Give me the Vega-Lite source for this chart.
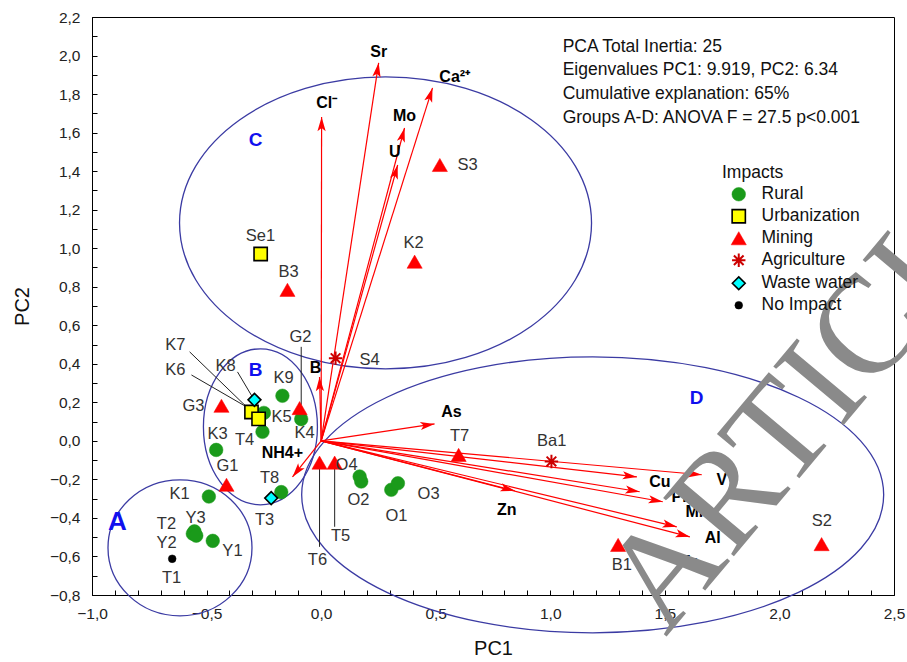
{
  "$schema": "https://vega.github.io/schema/vega-lite/v6.json",
  "autosize": "none",
  "width": 802,
  "height": 578,
  "padding": {"left": 92, "top": 17, "right": 13, "bottom": 67},
  "background": "white",
  "config": {
    "view": {"stroke": "#000", "strokeWidth": 1},
    "font": "Liberation Sans",
    "axis": {"grid": false, "domainColor": "#000", "tickColor": "#000", "labelColor": "#222", "titleColor": "#111", "labelFont": "Liberation Sans", "titleFont": "Liberation Sans", "labelFontSize": 15.5, "titleFontSize": 20, "titleFontWeight": "normal", "tickSize": -5, "labelOverlap": false, "labelFlush": false}
  },
  "datasets": {
    "pts": [
      {"id": "K9", "impact": "Rural", "x": -0.169, "y": 0.234},
      {"id": "K5", "impact": "Rural", "x": -0.25, "y": 0.145},
      {"id": "K4", "impact": "Rural", "x": -0.087, "y": 0.113},
      {"id": "T4", "impact": "Rural", "x": -0.256, "y": 0.047},
      {"id": "K3", "impact": "Rural", "x": -0.458, "y": -0.047},
      {"id": "T8", "impact": "Rural", "x": -0.174, "y": -0.266},
      {"id": "K1", "impact": "Rural", "x": -0.49, "y": -0.289},
      {"id": "Y3", "impact": "Rural", "x": -0.553, "y": -0.47},
      {"id": "T2", "impact": "Rural", "x": -0.56, "y": -0.482},
      {"id": "Y2", "impact": "Rural", "x": -0.545, "y": -0.492},
      {"id": "Y1", "impact": "Rural", "x": -0.473, "y": -0.519},
      {"id": "O4", "impact": "Rural", "x": 0.168, "y": -0.185},
      {"id": "O2", "impact": "Rural", "x": 0.175, "y": -0.211},
      {"id": "O1", "impact": "Rural", "x": 0.306, "y": -0.254},
      {"id": "O3", "impact": "Rural", "x": 0.335, "y": -0.22},
      {"id": "Se1", "impact": "Urbanization", "x": -0.264, "y": 0.97},
      {"id": "K6", "impact": "Urbanization", "x": -0.304, "y": 0.15},
      {"id": "K7", "impact": "Urbanization", "x": -0.273, "y": 0.114},
      {"id": "S3", "impact": "Mining", "x": 0.518, "y": 1.432},
      {"id": "K2", "impact": "Mining", "x": 0.408, "y": 0.93},
      {"id": "B3", "impact": "Mining", "x": -0.147, "y": 0.784},
      {"id": "G3", "impact": "Mining", "x": -0.435, "y": 0.182},
      {"id": "G2", "impact": "Mining", "x": -0.094, "y": 0.17},
      {"id": "G1", "impact": "Mining", "x": -0.413, "y": -0.228},
      {"id": "T6", "impact": "Mining", "x": -0.007, "y": -0.113},
      {"id": "T5", "impact": "Mining", "x": 0.059, "y": -0.113},
      {"id": "T7", "impact": "Mining", "x": 0.6, "y": -0.073},
      {"id": "B1", "impact": "Mining", "x": 1.296, "y": -0.54},
      {"id": "S2", "impact": "Mining", "x": 2.184, "y": -0.536},
      {"id": "S4", "impact": "Agriculture", "x": 0.063, "y": 0.429},
      {"id": "Ba1", "impact": "Agriculture", "x": 1.005, "y": -0.107},
      {"id": "K8", "impact": "Waste water", "x": -0.291, "y": 0.213},
      {"id": "T3", "impact": "Waste water", "x": -0.218, "y": -0.297},
      {"id": "T1", "impact": "No Impact", "x": -0.65, "y": -0.612}
    ],
    "plabels": [
      {"t": "Se1", "x": -0.265, "y": 1.064},
      {"t": "B3", "x": -0.142, "y": 0.877},
      {"t": "K2", "x": 0.403, "y": 1.027},
      {"t": "S3", "x": 0.639, "y": 1.432},
      {"t": "S4", "x": 0.211, "y": 0.42},
      {"t": "G2", "x": -0.09, "y": 0.54},
      {"t": "K9", "x": -0.164, "y": 0.327},
      {"t": "K7", "x": -0.636, "y": 0.498},
      {"t": "K6", "x": -0.636, "y": 0.368},
      {"t": "K8", "x": -0.417, "y": 0.389},
      {"t": "G3", "x": -0.557, "y": 0.182},
      {"t": "K3", "x": -0.452, "y": 0.036},
      {"t": "T4", "x": -0.334, "y": 0.005},
      {"t": "K5", "x": -0.173, "y": 0.125},
      {"t": "K4", "x": -0.072, "y": 0.042},
      {"t": "G1", "x": -0.409, "y": -0.13},
      {"t": "T8", "x": -0.225, "y": -0.192},
      {"t": "T3", "x": -0.247, "y": -0.41},
      {"t": "K1", "x": -0.618, "y": -0.275},
      {"t": "T2", "x": -0.675, "y": -0.431},
      {"t": "Y3", "x": -0.548, "y": -0.4},
      {"t": "Y2", "x": -0.675, "y": -0.529},
      {"t": "Y1", "x": -0.387, "y": -0.571},
      {"t": "T1", "x": -0.653, "y": -0.711},
      {"t": "O4", "x": 0.111, "y": -0.125},
      {"t": "O2", "x": 0.163, "y": -0.306},
      {"t": "O1", "x": 0.329, "y": -0.389},
      {"t": "O3", "x": 0.469, "y": -0.275},
      {"t": "T6", "x": -0.016, "y": -0.618},
      {"t": "T5", "x": 0.085, "y": -0.493},
      {"t": "T7", "x": 0.604, "y": 0.026},
      {"t": "Ba1", "x": 1.006, "y": 0.0},
      {"t": "B1", "x": 1.312, "y": -0.643},
      {"t": "S2", "x": 2.185, "y": -0.415}
    ],
    "vec": [
      {"v": "Sr", "x0": 0, "y0": 0, "x": 0.251, "y": 1.962},
      {"v": "Ca", "x0": 0, "y0": 0, "x": 0.486, "y": 1.832},
      {"v": "Cl", "x0": 0, "y0": 0, "x": 0.002, "y": 1.681},
      {"v": "Mo", "x0": 0, "y0": 0, "x": 0.364, "y": 1.624},
      {"v": "U", "x0": 0, "y0": 0, "x": 0.334, "y": 1.432},
      {"v": "B", "x0": 0, "y0": 0, "x": -0.007, "y": 0.332},
      {"v": "NH4", "x0": 0, "y0": 0, "x": -0.125, "y": -0.187},
      {"v": "As", "x0": 0, "y0": 0, "x": 0.495, "y": 0.088},
      {"v": "Zn", "x0": 0, "y0": 0, "x": 0.845, "y": -0.259},
      {"v": "Cu", "x0": 0, "y0": 0, "x": 1.378, "y": -0.187},
      {"v": "Pb", "x0": 0, "y0": 0, "x": 1.39, "y": -0.264},
      {"v": "Mn", "x0": 0, "y0": 0, "x": 1.491, "y": -0.316},
      {"v": "V", "x0": 0, "y0": 0, "x": 1.661, "y": -0.176},
      {"v": "Al", "x0": 0, "y0": 0, "x": 1.552, "y": -0.446},
      {"v": "Fe", "x0": 0, "y0": 0, "x": 1.609, "y": -0.498}
    ],
    "vlabels": [
      {"t": "Sr", "x": 0.251, "y": 2.019},
      {"t": "Ca²⁺", "x": 0.583, "y": 1.889},
      {"t": "Cl⁻", "x": 0.024, "y": 1.754},
      {"t": "Mo", "x": 0.364, "y": 1.687},
      {"t": "U", "x": 0.321, "y": 1.5},
      {"t": "B", "x": -0.024, "y": 0.379},
      {"t": "NH4+", "x": -0.169, "y": -0.062},
      {"t": "As", "x": 0.569, "y": 0.15},
      {"t": "Zn", "x": 0.81, "y": -0.358},
      {"t": "Cu", "x": 1.478, "y": -0.213},
      {"t": "Pb", "x": 1.574, "y": -0.291},
      {"t": "Mn", "x": 1.64, "y": -0.368},
      {"t": "V", "x": 1.749, "y": -0.202},
      {"t": "Al", "x": 1.709, "y": -0.503},
      {"t": "Fe", "x": 1.609, "y": -0.628}
    ],
    "leaders": [
      {"id": "K7", "x": -0.574, "y": 0.462, "x2": -0.325, "y2": 0.176},
      {"id": "K6", "x": -0.566, "y": 0.342, "x2": -0.325, "y2": 0.176},
      {"id": "K8", "x": -0.365, "y": 0.358, "x2": -0.3, "y2": 0.228},
      {"id": "G2", "x": -0.087, "y": 0.488, "x2": -0.087, "y2": 0.187},
      {"id": "T6", "x": -0.007, "y": -0.14, "x2": -0.007, "y2": -0.55},
      {"id": "T5", "x": 0.059, "y": -0.14, "x2": 0.059, "y2": -0.446}
    ],
    "groups": [
      {"g": "A", "x": -0.616, "y": -0.555, "lx": -0.889, "ly": -0.42},
      {"g": "B", "x": -0.265, "y": 0.073, "lx": -0.286, "ly": 0.368},
      {"g": "C", "x": 0.281, "y": 1.131, "lx": -0.286, "ly": 1.562},
      {"g": "D", "x": 1.185, "y": -0.28, "lx": 1.639, "ly": 0.223}
    ],
    "info": [
      {"x": 1.054, "y": 2.092, "t": ["PCA Total Inertia: 25", "Eigenvalues PC1: 9.919, PC2: 6.34", "Cumulative explanation: 65%", "Groups A-D: ANOVA F = 27.5 p<0.001"]}
    ],
    "wm": [
      {"t": "ARTICLE", "x": 1.504, "y": -1.02}
    ]
  },
  "layer": [
    {
      "data": {"name": "groups"},
      "transform": [{"filter": "datum.g == 'A'"}],
      "mark": {"type": "point", "filled": false, "size": 4, "stroke": "#3b3ba3", "strokeWidth": 1.3, "opacity": 1, "shape": "M -72 0 A 72 68 0 1 0 72 0 A 72 68 0 1 0 -72 0 Z"},
      "encoding": {
        "x": {"field": "x", "type": "quantitative", "scale": {"domain": [-1, 2.5], "nice": false, "zero": false},
          "axis": {"title": "PC1", "tickCount": 200, "values": [-1.0, -0.9, -0.8, -0.7, -0.6, -0.5, -0.4, -0.3, -0.2, -0.1, 0.0, 0.1, 0.2, 0.3, 0.4, 0.5, 0.6, 0.7, 0.8, 0.9, 1.0, 1.1, 1.2, 1.3, 1.4, 1.5, 1.6, 1.7, 1.8, 1.9, 2.0, 2.1, 2.2, 2.3, 2.4, 2.5],
            "labelExpr": "abs(round(datum.value*10)) % 5 == 0 ? replace(format(datum.value, '.1f'), '.', ',') : ''", "labelPadding": 16, "titlePadding": 17, "labelOverlap": false, "labelFlush": false, "labelBound": false}},
        "y": {"field": "y", "type": "quantitative", "scale": {"domain": [-0.8, 2.2], "nice": false, "zero": false},
          "axis": {"title": "PC2", "tickCount": 200, "values": [-0.8, -0.7, -0.6, -0.5, -0.4, -0.3, -0.2, -0.1, 0.0, 0.1, 0.2, 0.3, 0.4, 0.5, 0.6, 0.7, 0.8, 0.9, 1.0, 1.1, 1.2, 1.3, 1.4, 1.5, 1.6, 1.7, 1.8, 1.9, 2.0, 2.1, 2.2],
            "labelExpr": "abs(round(datum.value*10)) % 2 == 0 ? replace(format(datum.value, '.1f'), '.', ',') : ''", "labelPadding": 17, "titlePadding": 17, "labelOverlap": false, "labelFlush": false, "labelBound": false}}
      }
    },
    {
      "data": {"name": "groups"},
      "transform": [{"filter": "datum.g == 'B'"}],
      "mark": {"type": "point", "filled": false, "size": 4, "stroke": "#3b3ba3", "strokeWidth": 1.3, "opacity": 1, "shape": "M -57 0 A 57 78 0 1 0 57 0 A 57 78 0 1 0 -57 0 Z"},
      "encoding": {"x": {"field": "x", "type": "quantitative"}, "y": {"field": "y", "type": "quantitative"}}
    },
    {
      "data": {"name": "groups"},
      "transform": [{"filter": "datum.g == 'C'"}],
      "mark": {"type": "point", "filled": false, "size": 4, "stroke": "#3b3ba3", "strokeWidth": 1.3, "opacity": 1, "shape": "M -206 0 A 206 146 0 1 0 206 0 A 206 146 0 1 0 -206 0 Z"},
      "encoding": {"x": {"field": "x", "type": "quantitative"}, "y": {"field": "y", "type": "quantitative"}}
    },
    {
      "data": {"name": "groups"},
      "transform": [{"filter": "datum.g == 'D'"}],
      "mark": {"type": "point", "filled": false, "size": 4, "stroke": "#3b3ba3", "strokeWidth": 1.3, "opacity": 1, "shape": "M -291 0 A 291 138 0 1 0 291 0 A 291 138 0 1 0 -291 0 Z"},
      "encoding": {"x": {"field": "x", "type": "quantitative"}, "y": {"field": "y", "type": "quantitative"}}
    },
    {
      "data": {"name": "leaders"},
      "mark": {"type": "rule", "color": "#222", "strokeWidth": 1},
      "encoding": {"x": {"field": "x", "type": "quantitative"}, "y": {"field": "y", "type": "quantitative"}, "x2": {"field": "x2"}, "y2": {"field": "y2"}}
    },
    {
      "data": {"name": "vec"},
      "mark": {"type": "rule", "color": "#ff0000", "strokeWidth": 1.2},
      "encoding": {"x": {"field": "x0", "type": "quantitative"}, "y": {"field": "y0", "type": "quantitative"}, "x2": {"field": "x"}, "y2": {"field": "y"}}
    },
    {
      "data": {"name": "vec"},
      "mark": {"type": "point", "filled": true, "size": 121, "color": "#ff0000", "opacity": 1, "shape": "M 0 0 L -0.75 2.6 L 0 2.0 L 0.75 2.6 Z", "angle": {"expr": "atan2(datum.x*229, datum.y*192.7)*180/PI"}},
      "encoding": {"x": {"field": "x", "type": "quantitative"}, "y": {"field": "y", "type": "quantitative"}}
    },
    {
      "data": {"name": "pts"},
      "mark": {"type": "point", "filled": true, "opacity": 1},
      "encoding": {
        "x": {"field": "x", "type": "quantitative"},
        "y": {"field": "y", "type": "quantitative"},
        "shape": {"field": "impact", "type": "nominal", "scale": {"type": "ordinal", "domain": ["Rural", "Urbanization", "Mining", "Agriculture", "Waste water", "No Impact"], "range": ["circle", "square", "triangle-up", "M -1 0 L 1 0 M 0 -1 L 0 1 M -0.72 -0.72 L 0.72 0.72 M -0.72 0.72 L 0.72 -0.72", "diamond", "circle"]},
          "legend": {"title": "Impacts", "orient": "none", "legendX": 630, "legendY": 147, "padding": 0, "titleFontSize": 17.5, "titleFontWeight": "normal", "titleColor": "#111", "titlePadding": 4, "labelFontSize": 17.5, "labelColor": "#111", "rowPadding": 2, "symbolOffset": 8, "labelOffset": 14}},
        "fill": {"field": "impact", "type": "nominal", "scale": {"type": "ordinal", "domain": ["Rural", "Urbanization", "Mining", "Agriculture", "Waste water", "No Impact"], "range": ["#1a9a1a", "#ffff00", "#ff0000", "#cc0000", "#00ffff", "#000000"]}, "legend": {"title": "Impacts"}},
        "stroke": {"field": "impact", "type": "nominal", "scale": {"type": "ordinal", "domain": ["Rural", "Urbanization", "Mining", "Agriculture", "Waste water", "No Impact"], "range": ["#1a9a1a", "#000000", "#ff0000", "#cc0000", "#000000", "#000000"]}, "legend": {"title": "Impacts"}},
        "size": {"field": "impact", "type": "nominal", "scale": {"type": "ordinal", "domain": ["Rural", "Urbanization", "Mining", "Agriculture", "Waste water", "No Impact"], "range": [185, 175, 230, 180, 165, 60]}, "legend": {"title": "Impacts"}},
        "strokeWidth": {"field": "impact", "type": "nominal", "scale": {"type": "ordinal", "domain": ["Rural", "Urbanization", "Mining", "Agriculture", "Waste water", "No Impact"], "range": [0.5, 1.6, 0.5, 2, 1.6, 0.5]}, "legend": {"title": "Impacts"}}
      }
    },
    {
      "data": {"name": "plabels"},
      "mark": {"type": "text", "fontSize": 16.5, "color": "#333", "align": "center", "baseline": "middle", "font": "Liberation Sans"},
      "encoding": {"x": {"field": "x", "type": "quantitative"}, "y": {"field": "y", "type": "quantitative"}, "text": {"field": "t"}}
    },
    {
      "data": {"name": "vlabels"},
      "mark": {"type": "text", "fontSize": 16, "fontWeight": "bold", "color": "#000", "align": "center", "baseline": "middle", "font": "Liberation Sans"},
      "encoding": {"x": {"field": "x", "type": "quantitative"}, "y": {"field": "y", "type": "quantitative"}, "text": {"field": "t"}}
    },
    {
      "data": {"name": "groups"},
      "transform": [{"filter": "datum.g == 'A'"}],
      "mark": {"type": "text", "fontSize": 26, "fontWeight": "bold", "color": "#1010ee", "align": "center", "baseline": "middle", "font": "Liberation Sans"},
      "encoding": {"x": {"field": "lx", "type": "quantitative"}, "y": {"field": "ly", "type": "quantitative"}, "text": {"field": "g"}}
    },
    {
      "data": {"name": "groups"},
      "transform": [{"filter": "datum.g != 'A'"}],
      "mark": {"type": "text", "fontSize": 19, "fontWeight": "bold", "color": "#1010ee", "align": "center", "baseline": "middle", "font": "Liberation Sans"},
      "encoding": {"x": {"field": "lx", "type": "quantitative"}, "y": {"field": "ly", "type": "quantitative"}, "text": {"field": "g"}}
    },
    {
      "data": {"name": "info"},
      "mark": {"type": "text", "fontSize": 17.5, "color": "#111", "align": "left", "baseline": "top", "lineHeight": 23.7, "font": "Liberation Sans"},
      "encoding": {"x": {"field": "x", "type": "quantitative"}, "y": {"field": "y", "type": "quantitative"}, "text": {"field": "t"}}
    },
    {
      "data": {"name": "wm"},
      "mark": {"type": "text", "fontSize": 140, "color": "#8a8a8a", "align": "left", "baseline": "alphabetic", "angle": -50, "font": "Liberation Serif"},
      "encoding": {"x": {"field": "x", "type": "quantitative"}, "y": {"field": "y", "type": "quantitative"}, "text": {"field": "t"}}
    }
  ]
}
